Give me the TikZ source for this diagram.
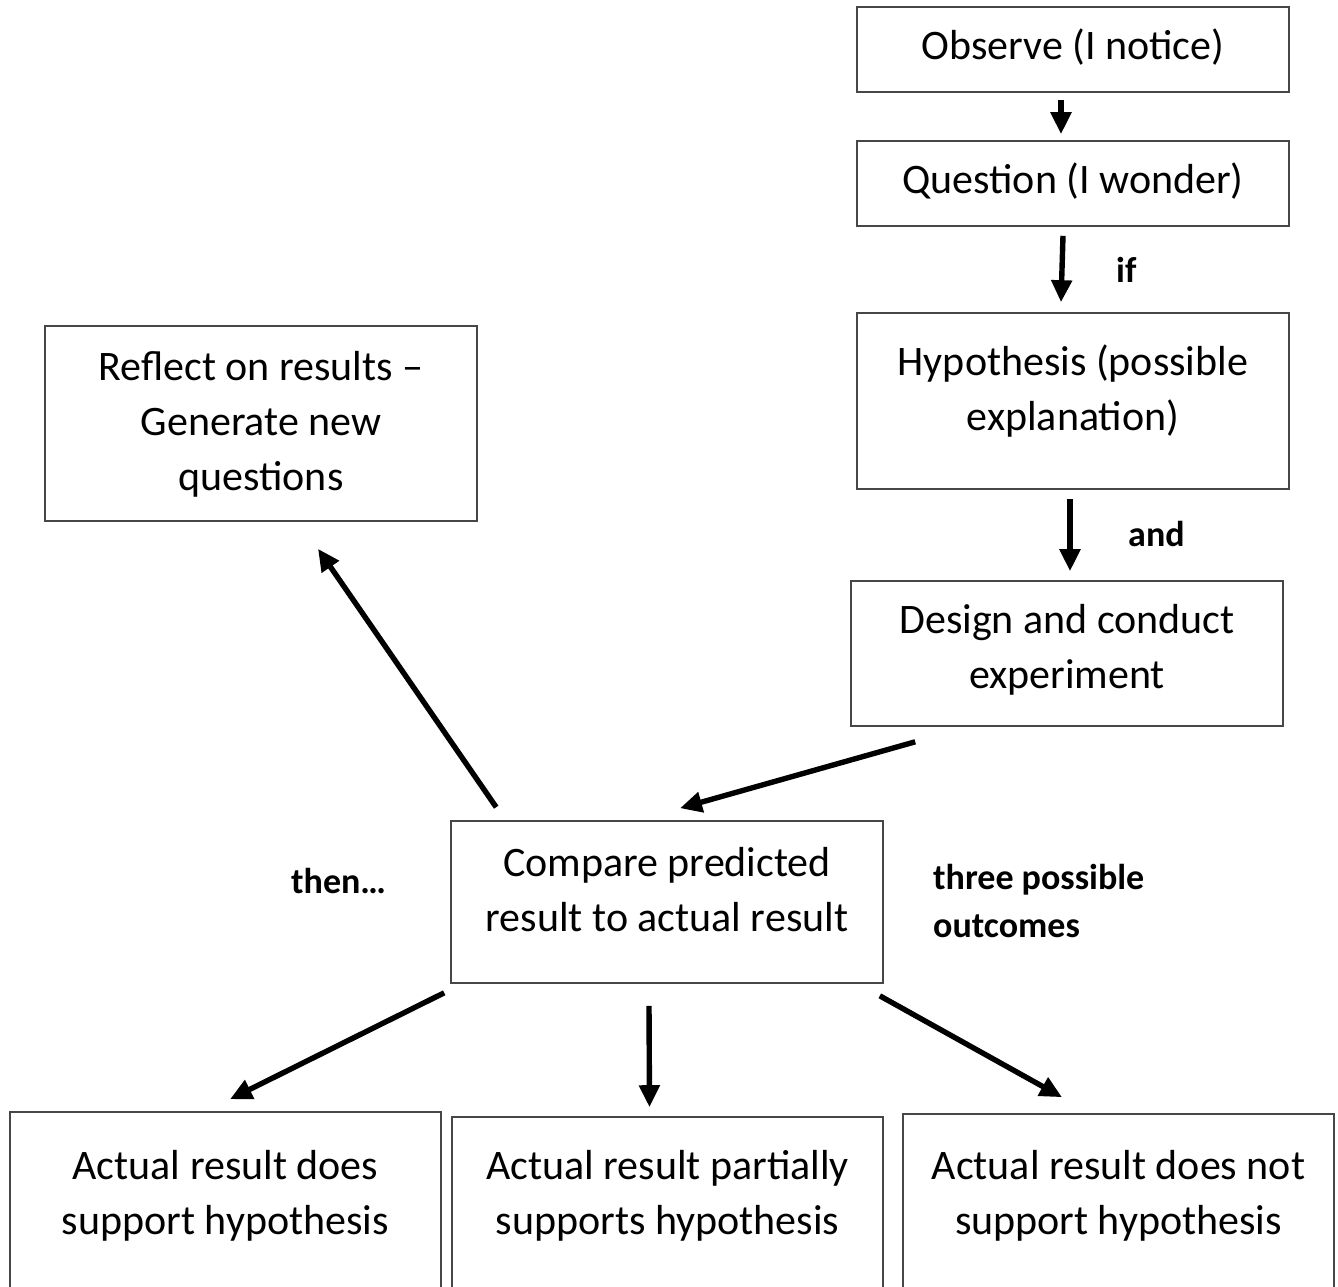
\documentclass[tikz,border=0pt]{standalone}
\usepackage{fontspec}
\setmainfont{Carlito}
\usetikzlibrary{arrows.meta,calc}
\begin{document}
\begin{tikzpicture}[x=1pt,y=-1pt,
  box/.style={draw=black!72,line width=1.6pt,minimum width=432pt,inner sep=0pt},
  txt/.style={align=center,inner sep=0pt,anchor=base,font=\fontsize{42}{55}\selectfont},
  lbl/.style={inner sep=0pt,anchor=base west,font=\fontsize{36}{48}\selectfont\bfseries,align=left},
  conn/.style={line width=5.4pt,-{Triangle[length=22pt,width=20pt]}}]
\useasboundingbox (0,0) rectangle (1338,1287);
\fill[white] (0,0) rectangle (1338,1287);
\clip (0,0) rectangle (1338,1287);
% boxes
\node[box,minimum height=85pt] (observe) at (1073,49.5) {};
\node[box,minimum height=85pt] (question) at (1073,183.5) {};
\node[box,minimum height=176pt] (hyp) at (1073,401) {};
\node[box,minimum height=145pt] (design) at (1067,653.5) {};
\node[box,minimum height=195pt] (reflect) at (261,423.5) {};
\node[box,minimum height=162pt] (compare) at (667,902) {};
\node[box,minimum width=431pt,minimum height=200pt] (supp) at (225.5,1212) {};
\node[box,minimum width=431pt,minimum height=200pt] (part) at (667.5,1217) {};
\node[box,minimum width=431pt,minimum height=200pt] (nots) at (1118.5,1214) {};
% texts (base anchor = baseline of the last line)
\node[txt] (tobs) at (1073,60) {Observe (I notice)};
\node[txt] (tque) at (1073,193) {Question (I wonder)};
\node[txt] (thyp) at (1073,430) {Hypothesis (possible\\explanation)};
\node[txt] (tdes) at (1067,688) {Design and conduct\\experiment};
\node[txt] (tref) at (261,490) {Reflect on results –\\Generate new\\questions};
\node[txt] (tcom) at (667,931) {Compare predicted\\result to actual result};
\node[txt] (tsup) at (225.5,1234) {Actual result does\\support hypothesis};
\node[txt] (tpar) at (667.5,1234) {Actual result partially\\supports hypothesis};
\node[txt] (tnot) at (1118.5,1234) {Actual result does not\\support hypothesis};
% labels
\node[lbl] (lif) at (1116,282) {if};
\node[lbl] (land) at (1128,546) {and};
\node[lbl] (lthen) at (291,893) {then…};
\node[lbl] (lthree) at (933,937) {three possible\\outcomes};
% connectors
\draw[conn] ($(observe.south)+(-12,7)$) -- ($(question.north)+(-12,-6)$);
\draw[conn] ($(question.south)+(-10,9)$) -- ($(hyp.north)+(-12,-10)$);
\draw[conn] ($(hyp.south)+(-3,9)$) -- ($(design.north)+(3,-9)$);
\draw[conn] ($(design.south west)+(65,15)$) -- ($(compare.north)+(13,-12)$);
\draw[conn] ($(compare.north west)+(46,-13)$) -- ($(reflect.south)+(57,27)$);
\draw[conn] ($(compare.south west)+(-6,9)$) -- ($(supp.north)+(4.5,-12)$);
\draw[conn] ($(compare.south)+(-18,22)$) -- ($(part.north)+(-18,-9)$);
\draw[conn] ($(compare.south east)+(-4,12)$) -- ($(nots.north)+(-56.5,-16)$);
\end{tikzpicture}
\end{document}
